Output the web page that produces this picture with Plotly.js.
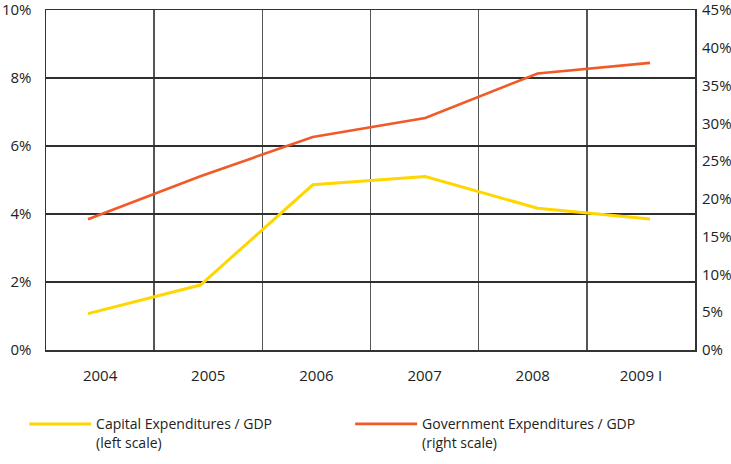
<!DOCTYPE html>
<html>
<head>
<meta charset="utf-8">
<script src="https://cdn.plot.ly/plotly-3.0.1.min.js"></script>
<style>html,body{margin:0;padding:0;background:#fff;}#chart{width:731px;height:464px;}</style>
</head>
<body>
<div id="chart"></div>
<script>
// Data
var years = ['2004', '2005', '2006', '2007', '2008', '2009 I'];
var capitalExpToGdp = [1.07, 1.91, 4.86, 5.10, 4.17, 3.85];      // left scale, %
var governmentExpToGdp = [17.3, 23.0, 28.2, 30.7, 36.6, 38.0];   // right scale, %
var leftTicks = [0, 2, 4, 6, 8, 10];
var rightTicks = [0, 5, 10, 15, 20, 25, 30, 35, 40, 45];
var seriesNames = ['Capital Expenditures / GDP<br>(left scale)', 'Government Expenditures / GDP<br>(right scale)'];

var tickFont = {family: 'Open Sans, sans-serif', size: 15, color: '#222'};

var traces = [
  // category frame for the visible year axis (no marks drawn)
  {
    x: years, y: years.map(function () { return null; }),
    type: 'scatter', mode: 'lines', xaxis: 'x', yaxis: 'y',
    showlegend: false, hoverinfo: 'skip', line: {width: 0}
  },
  {
    x: years, y: capitalExpToGdp, name: seriesNames[0],
    type: 'scatter', mode: 'lines', xaxis: 'x2', yaxis: 'y',
    line: {color: '#FFD600', width: 3}, hoverinfo: 'skip'
  },
  {
    x: years, y: governmentExpToGdp, name: seriesNames[1],
    type: 'scatter', mode: 'lines', xaxis: 'x2', yaxis: 'y2',
    line: {color: '#F05A28', width: 2.6}, hoverinfo: 'skip'
  }
];

var layout = {
  width: 731, height: 464,
  margin: {l: 46, r: 36, t: 10, b: 114},
  paper_bgcolor: '#fff', plot_bgcolor: '#fff',
  showlegend: true,
  xaxis: {
    type: 'category', categoryorder: 'array', categoryarray: years,
    range: [-0.5, 5.5], tickson: 'boundaries', ticks: '',
    showgrid: true, gridcolor: '#555', gridwidth: 1.5,
    showline: true, linecolor: '#333', linewidth: 1.5, mirror: true,
    tickfont: tickFont, ticklabelstandoff: 11, zeroline: false, fixedrange: true
  },
  xaxis2: {
    type: 'category', categoryorder: 'array', categoryarray: years,
    overlaying: 'x', anchor: 'y', range: [-0.3736, 5.400], visible: false, fixedrange: true
  },
  yaxis: {
    range: [0, 10], tickvals: leftTicks, ticktext: leftTicks.map(function (v) { return v + '%'; }),
    showgrid: true, gridcolor: '#2e2e2e', gridwidth: 1.5, zeroline: false,
    showline: true, linecolor: '#333', linewidth: 1.5, mirror: true,
    ticks: '', tickfont: tickFont, ticklabelstandoff: 10, ticklabeloverflow: 'allow', fixedrange: true
  },
  yaxis2: {
    range: [0, 45], tickvals: rightTicks, ticktext: rightTicks.map(function (v) { return v + '%'; }),
    overlaying: 'y', side: 'right', anchor: 'x', showgrid: false, zeroline: false,
    showline: false, ticks: '', tickfont: tickFont, ticklabelstandoff: 6, ticklabeloverflow: 'allow', fixedrange: true
  },
  legend: {
    orientation: 'h', xref: 'container', yref: 'container',
    x: 0.033, xanchor: 'left', y: 0.12, yanchor: 'top',
    font: {family: 'Open Sans, sans-serif', size: 14, color: '#222'},
    valign: 'top', entrywidth: 249, itemwidth: 62, bgcolor: 'rgba(0,0,0,0)'
  }
};

Plotly.newPlot('chart', traces, layout, {displayModeBar: false, staticPlot: true});
</script>
</body>
</html>
